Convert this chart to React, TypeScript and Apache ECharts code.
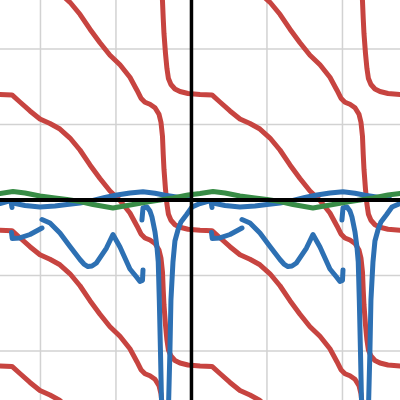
import React, { useEffect, useRef } from "react";
import * as echarts from "echarts";

// Visible window in graph units (one grid square = 1 unit)
const X_MIN = -2.536;
const X_MAX = 2.762;
const Y_MIN = -2.649;
const Y_MAX = 2.649;

const gridX = [-2, -1, 1, 2];
const gridY = [-2, -1, 1, 2];
const axisX = [0];
const axisY = [0];

// Red branches (top to bottom families)
const redA = [[-2.536,-2.199],[-2.377,-2.205],[-2.272,-2.298],[-2.139,-2.417],[-2.007,-2.523],[-1.874,-2.583],[-1.742,-2.656],[-1.609,-2.775]];
const redB = [[-2.536,-0.401],[-2.377,-0.407],[-2.272,-0.500],[-2.139,-0.619],[-2.007,-0.725],[-1.874,-0.785],[-1.742,-0.858],[-1.609,-0.977],[-1.477,-1.136],[-1.344,-1.334],[-1.212,-1.513],[-1.079,-1.679],[-0.947,-1.805],[-0.815,-1.970],[-0.722,-2.142],[-0.669,-2.248],[-0.616,-2.301],[-0.550,-2.328],[-0.483,-2.374],[-0.430,-2.460],[-0.404,-2.566],[-0.384,-2.752]];
const redC = [[-2.536,1.397],[-2.377,1.391],[-2.272,1.298],[-2.139,1.179],[-2.007,1.073],[-1.874,1.013],[-1.742,0.940],[-1.609,0.821],[-1.477,0.662],[-1.344,0.464],[-1.212,0.285],[-1.079,0.119],[-0.947,-0.007],[-0.815,-0.172],[-0.722,-0.344],[-0.669,-0.450],[-0.616,-0.503],[-0.550,-0.530],[-0.483,-0.576],[-0.430,-0.662],[-0.404,-0.768],[-0.384,-0.954],[-0.374,-1.192],[-0.364,-1.391],[-0.344,-1.656],[-0.325,-1.854],[-0.305,-1.987],[-0.272,-2.066],[-0.219,-2.126],[-0.152,-2.159],[-0.046,-2.185],[0.113,-2.199],[0.272,-2.205],[0.377,-2.298],[0.510,-2.417],[0.642,-2.523],[0.775,-2.583],[0.907,-2.656],[1.040,-2.775]];
const redD = [[-1.742,2.738],[-1.609,2.619],[-1.477,2.460],[-1.344,2.262],[-1.212,2.083],[-1.079,1.917],[-0.947,1.791],[-0.815,1.626],[-0.722,1.454],[-0.669,1.348],[-0.616,1.295],[-0.550,1.268],[-0.483,1.222],[-0.430,1.136],[-0.404,1.030],[-0.384,0.844],[-0.374,0.606],[-0.364,0.407],[-0.344,0.142],[-0.325,-0.056],[-0.305,-0.189],[-0.272,-0.268],[-0.219,-0.328],[-0.152,-0.361],[-0.046,-0.387],[0.113,-0.401],[0.272,-0.407],[0.377,-0.500],[0.510,-0.619],[0.642,-0.725],[0.775,-0.785],[0.907,-0.858],[1.040,-0.977],[1.172,-1.136],[1.305,-1.334],[1.437,-1.513],[1.570,-1.679],[1.702,-1.805],[1.834,-1.970],[1.927,-2.142],[1.980,-2.248],[2.033,-2.301],[2.099,-2.328],[2.166,-2.374],[2.219,-2.460],[2.245,-2.566],[2.265,-2.752]];
const redE = [[-0.404,2.828],[-0.384,2.642],[-0.374,2.404],[-0.364,2.205],[-0.344,1.940],[-0.325,1.742],[-0.305,1.609],[-0.272,1.530],[-0.219,1.470],[-0.152,1.437],[-0.046,1.411],[0.113,1.397],[0.272,1.391],[0.377,1.298],[0.510,1.179],[0.642,1.073],[0.775,1.013],[0.907,0.940],[1.040,0.821],[1.172,0.662],[1.305,0.464],[1.437,0.285],[1.570,0.119],[1.702,-0.007],[1.834,-0.172],[1.927,-0.344],[1.980,-0.450],[2.033,-0.503],[2.099,-0.530],[2.166,-0.576],[2.219,-0.662],[2.245,-0.768],[2.265,-0.954],[2.275,-1.192],[2.285,-1.391],[2.305,-1.656],[2.324,-1.854],[2.344,-1.987],[2.377,-2.066],[2.430,-2.126],[2.497,-2.159],[2.603,-2.185],[2.762,-2.199]];
const redF = [[0.907,2.738],[1.040,2.619],[1.172,2.460],[1.305,2.262],[1.437,2.083],[1.570,1.917],[1.702,1.791],[1.834,1.626],[1.927,1.454],[1.980,1.348],[2.033,1.295],[2.099,1.268],[2.166,1.222],[2.219,1.136],[2.245,1.030],[2.265,0.844],[2.275,0.606],[2.285,0.407],[2.305,0.142],[2.324,-0.056],[2.344,-0.189],[2.377,-0.268],[2.430,-0.328],[2.497,-0.361],[2.603,-0.387],[2.762,-0.401]];
const redG = [[2.245,2.828],[2.265,2.642],[2.275,2.404],[2.285,2.205],[2.305,1.940],[2.324,1.742],[2.344,1.609],[2.377,1.530],[2.430,1.470],[2.497,1.437],[2.603,1.411],[2.762,1.397]];

// Blue pieces
const blueStart = [[-2.536,-0.046],[-2.417,-0.013],[-2.391,-0.016],[-2.377,-0.099]];
const blueTopL = [[-2.364,-0.040],[-2.205,-0.073],[-2.007,-0.093],[-1.808,-0.079],[-1.649,-0.060],[-1.477,-0.040],[-1.305,-0.007],[-1.146,0.033],[-0.987,0.066],[-0.815,0.093],[-0.642,0.110],[-0.483,0.089],[-0.351,0.062],[-0.179,0.037],[-0.020,0.007]];
const blueTopR = [[0.285,-0.040],[0.444,-0.073],[0.642,-0.093],[0.841,-0.079],[1.000,-0.060],[1.172,-0.040],[1.344,-0.007],[1.503,0.033],[1.662,0.066],[1.834,0.093],[2.007,0.110],[2.166,0.089],[2.298,0.062],[2.470,0.037],[2.629,0.007]];
const blueHookL = [[-2.384,-0.430],[-2.374,-0.510],[-2.272,-0.503],[-2.139,-0.457],[-1.980,-0.371]];
const blueHookR = [[0.265,-0.430],[0.275,-0.510],[0.377,-0.503],[0.510,-0.457],[0.669,-0.371]];
const blueZigL = [[-1.980,-0.258],[-1.874,-0.305],[-1.742,-0.437],[-1.609,-0.616],[-1.477,-0.788],[-1.424,-0.848],[-1.371,-0.881],[-1.318,-0.874],[-1.258,-0.834],[-1.126,-0.636],[-1.040,-0.457],[-0.947,-0.623],[-0.815,-0.914],[-0.728,-1.020],[-0.682,-1.079],[-0.649,-1.066],[-0.642,-0.927]];
const blueZigR = [[0.669,-0.258],[0.775,-0.305],[0.907,-0.437],[1.040,-0.616],[1.172,-0.788],[1.225,-0.848],[1.278,-0.881],[1.331,-0.874],[1.391,-0.834],[1.523,-0.636],[1.609,-0.457],[1.702,-0.623],[1.834,-0.914],[1.921,-1.020],[1.967,-1.079],[2.000,-1.066],[2.007,-0.927]];
const blueDipInL = [[-0.656,-0.265],[-0.642,-0.106],[-0.589,-0.093],[-0.550,-0.146],[-0.523,-0.225],[-0.483,-0.424],[-0.457,-0.623],[-0.440,-0.821],[-0.426,-1.325],[-0.411,-1.987],[-0.397,-2.649],[-0.391,-2.914]];
const blueDipInR = [[1.993,-0.265],[2.007,-0.106],[2.060,-0.093],[2.099,-0.146],[2.126,-0.225],[2.166,-0.424],[2.192,-0.623],[2.209,-0.821],[2.223,-1.325],[2.238,-1.987],[2.252,-2.649],[2.258,-2.914]];
const blueDipOutL = [[-0.311,-2.914],[-0.302,-2.649],[-0.285,-1.987],[-0.272,-1.325],[-0.245,-0.821],[-0.219,-0.543],[-0.179,-0.397],[-0.139,-0.291],[-0.064,-0.192],[0.007,-0.093],[0.113,-0.046],[0.232,-0.013],[0.258,-0.016],[0.272,-0.099]];
const blueDipOutR = [[2.338,-2.914],[2.347,-2.649],[2.364,-1.987],[2.377,-1.325],[2.404,-0.821],[2.430,-0.543],[2.470,-0.397],[2.510,-0.291],[2.585,-0.192],[2.656,-0.093],[2.762,-0.046]];

// Green wave
const green = [[-2.536,0.086],[-2.364,0.113],[-2.205,0.093],[-2.007,0.053],[-1.808,0.026],[-1.649,0.007],[-1.477,-0.020],[-1.305,-0.060],[-1.040,-0.106],[-0.775,-0.060],[-0.589,-0.026],[-0.417,0],[-0.245,0.026],[-0.046,0.066],[0.113,0.086],[0.285,0.113],[0.444,0.093],[0.642,0.053],[0.841,0.026],[1.000,0.007],[1.172,-0.020],[1.344,-0.060],[1.609,-0.106],[1.874,-0.060],[2.060,-0.026],[2.232,0],[2.404,0.026],[2.603,0.066],[2.762,0.086]];

const RED = "#c74440";
const BLUE = "#2d70b3";
const GREEN = "#388c46";
const BLACK = "#000000";
const GRID = "#d2d2d2";

export default function App() {
  const ref = useRef<HTMLDivElement>(null);
  useEffect(() => {
    if (!ref.current) return;
    const chart = echarts.init(ref.current, null, { renderer: "svg" });
    const line = (data: number[][], color: string, width: number, z: number) => ({
      type: "line",
      data,
      showSymbol: false,
      symbol: "none",
      silent: true,
      z,
      emphasis: { disabled: true },
      lineStyle: { color, width, cap: "round", join: "round" },
    });
    const series: any[] = [];
    gridX.forEach((g) => series.push(line([[g, Y_MIN - 1], [g, Y_MAX + 1]], GRID, 1.5, 1)));
    gridY.forEach((g) => series.push(line([[X_MIN - 1, g], [X_MAX + 1, g]], GRID, 1.5, 1)));
    [redA, redB, redC, redD, redE, redF, redG].forEach((d) => series.push(line(d, RED, 5, 3)));
    [blueStart, blueTopL, blueTopR, blueHookL, blueHookR, blueZigL, blueZigR, blueDipInL, blueDipInR, blueDipOutL, blueDipOutR].forEach((d) =>
      series.push(line(d, BLUE, 5, 4))
    );
    series.push(line(green, GREEN, 5, 5));
    axisX.forEach((a) => series.push(line([[a, Y_MIN - 1], [a, Y_MAX + 1]], BLACK, 3.5, 6)));
    axisY.forEach((a) => series.push(line([[X_MIN - 1, a], [X_MAX + 1, a]], BLACK, 4, 6)));

    chart.setOption({
      animation: false,
      backgroundColor: "#ffffff",
      grid: { left: 0, right: 0, top: 0, bottom: 0, containLabel: false },
      xAxis: { type: "value", min: X_MIN, max: X_MAX, show: false },
      yAxis: { type: "value", min: Y_MIN, max: Y_MAX, show: false },
      series,
    });
    return () => chart.dispose();
  }, []);
  return (
    <div
      ref={ref}
      style={{ position: "fixed", left: 0, top: 0, width: 400, height: 400, background: "#fff" }}
    />
  );
}
